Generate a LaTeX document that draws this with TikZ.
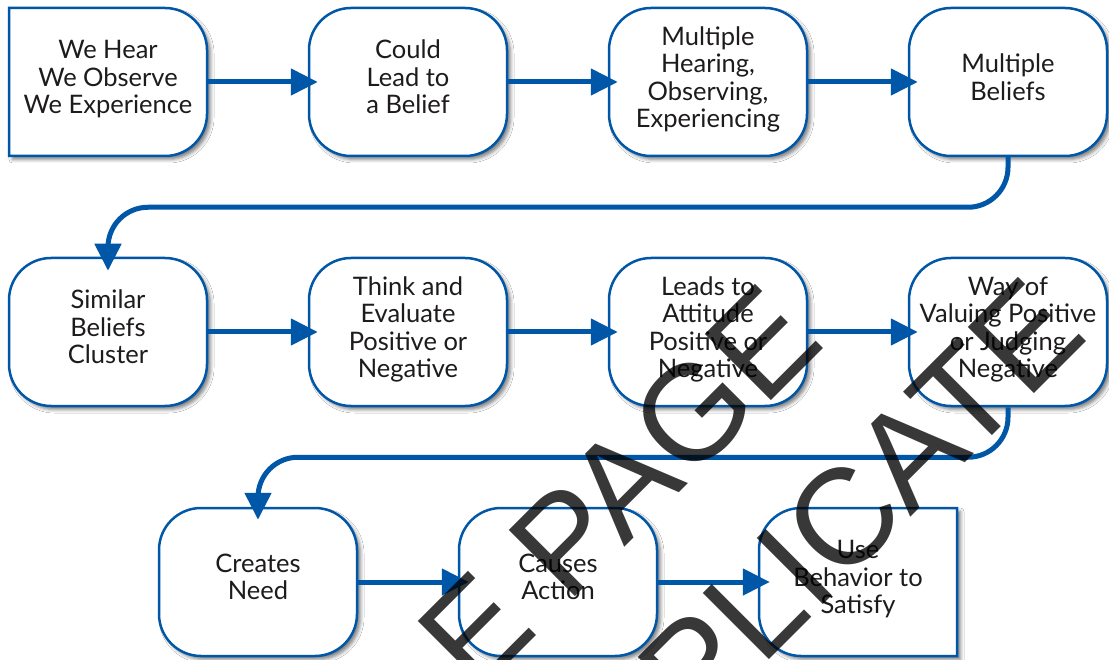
\documentclass[tikz,border=0pt]{standalone}
\usepackage{fontspec}
\setmainfont{Lato}
\newfontfamily\wmfont{Liberation Sans}
\usetikzlibrary{arrows.meta,shadows.blur}
\definecolor{flowblue}{HTML}{0057A8}
\definecolor{txtgray}{HTML}{1E1B1C}
\tikzset{
  boxshape/.style={line width=2.5pt, draw=flowblue, fill=white,
    blur shadow={shadow xshift=3.5pt, shadow yshift=-3.5pt, shadow blur radius=3.5pt, shadow opacity=50}},
  boxtext/.style={rectangle, minimum width=198pt, minimum height=148pt, align=center,
    text=txtgray, font=\fontsize{25.5}{27.5}\selectfont, inner sep=0pt, text depth=10pt},
  flowbox/.style={boxtext, boxshape, rounded corners=42pt},
  conn/.style={line width=5pt, draw=flowblue, -{Triangle[length=27pt,width=26pt]}},
  wm/.style={text=black, text opacity=0.78, font=\wmfont\fontsize{136}{160}\selectfont,
    rotate=45, inner sep=0pt}
}
\begin{document}
\begin{tikzpicture}[x=1pt,y=-1pt]
\fill[white] (0,0) rectangle (1109,660);
\path[use as bounding box, clip] (0,0) rectangle (1109,660);
% outlines of the two boxes with mixed corners
\path[boxshape] (9,8) -- (165,8) arc[start angle=90,end angle=0,radius=42pt]
  -- (207,114) arc[start angle=0,end angle=-90,radius=42pt] -- (9,156) -- cycle;
\path[boxshape] (957,508) -- (957,656) -- (801,656)
  arc[start angle=270,end angle=180,radius=42pt] -- (759,550)
  arc[start angle=180,end angle=90,radius=42pt] -- cycle;
\node[boxtext] (b1) at (108,82) {We Hear\\We Observe\\We Experience};
\node[boxtext] (b11) at (858,582) {Use\\Behavior to\\Satisfy};
% row 1
\node[flowbox] (b2) at (408,82) {Could\\Lead to\\a Belief};
\node[flowbox] (b3) at (708,82) {Multiple\\Hearing,\\Observing,\\Experiencing};
\node[flowbox] (b4) at (1008,82) {Multiple\\Beliefs};
% row 2
\node[flowbox] (b5) at (108,332) {Similar\\Beliefs\\Cluster};
\node[flowbox] (b6) at (408,332) {Think and\\Evaluate\\Positive or\\Negative};
\node[flowbox] (b7) at (708,332) {Leads to\\Attitude\\Positive or\\Negative};
\node[flowbox] (b8) at (1008,332) {Way of\\Valuing Positive\\or Judging\\Negative};
% row 3
\node[flowbox] (b9) at (258,582) {Creates\\Need};
\node[flowbox] (b10) at (558,582) {Causes\\Action};
% connectors
\draw[conn] (b1.east) -- ([xshift=10pt]b2.west);
\draw[conn] (b2.east) -- ([xshift=10pt]b3.west);
\draw[conn] (b3.east) -- ([xshift=10pt]b4.west);
\draw[conn] (b4.south) [rounded corners=40pt] -- ++(0,50) -| ([yshift=-14pt]b5.north);
\draw[conn] (b5.east) -- ([xshift=10pt]b6.west);
\draw[conn] (b6.east) -- ([xshift=10pt]b7.west);
\draw[conn] (b7.east) -- ([xshift=10pt]b8.west);
\draw[conn] (b8.south) [rounded corners=40pt] -- ++(0,50) -| ([yshift=-13pt]b9.north);
\draw[conn] (b9.east) -- ([xshift=11pt]b10.west);
\draw[conn] (b10.east) -- ([xshift=11pt]b11.west);
% watermark
\node[wm] (wm1) at (456,650) {SAMPLE PAGE};
\node[wm] (wm2) at (591,771) {DO NOT DUPLICATE};
\end{tikzpicture}
\end{document}
